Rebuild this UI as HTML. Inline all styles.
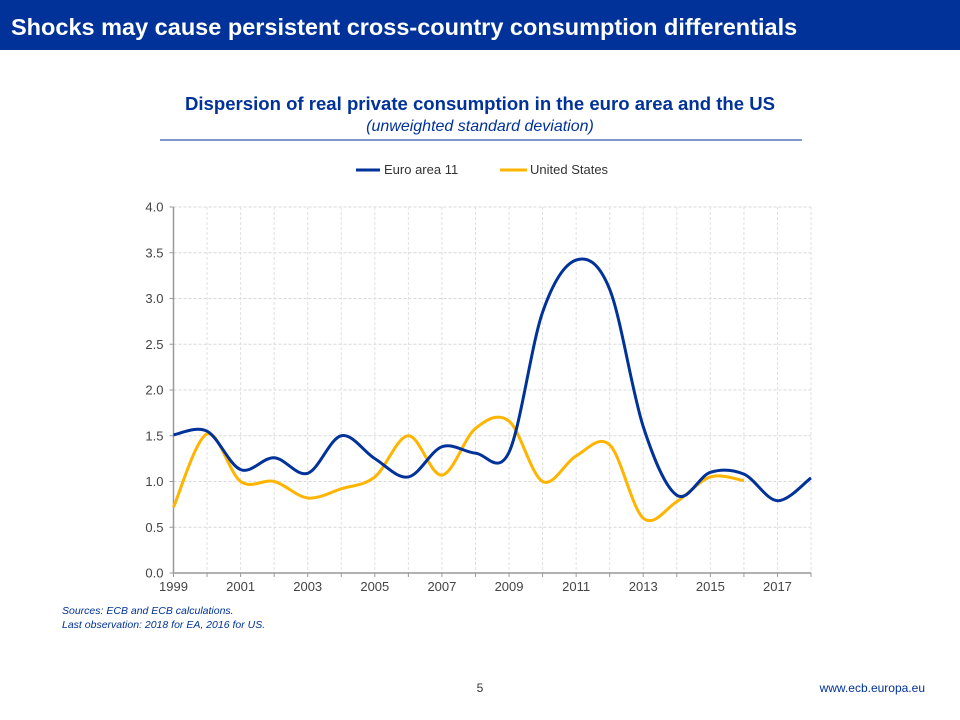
<!DOCTYPE html>
<html><head><meta charset="utf-8">
<style>
body{margin:0;width:960px;height:720px;background:#fff;font-family:"Liberation Sans",Arial,sans-serif;overflow:hidden;position:relative}
.hdr{position:absolute;left:0;top:0;width:960px;height:50px;background:#003299;color:#fff;font-weight:bold;font-size:23.5px;line-height:54px;padding-left:11px;box-sizing:border-box;white-space:nowrap}
</style></head><body>
<div class="hdr">Shocks may cause persistent cross-country consumption differentials</div>
<svg width="960" height="720" style="position:absolute;left:0;top:0">
<text x="480" y="110" text-anchor="middle" font-size="18.5" font-weight="bold" fill="#003299" textLength="590" lengthAdjust="spacingAndGlyphs">Dispersion of real private consumption in the euro area and the US</text>
<text x="480" y="131" text-anchor="middle" font-size="16" font-style="italic" fill="#003299">(unweighted standard deviation)</text>
<line x1="160" y1="140" x2="802" y2="140" stroke="#003299" stroke-width="1"/>
<g>
<line x1="356" y1="170" x2="380" y2="170" stroke="#003299" stroke-width="3"/>
<text x="384" y="174" font-size="13" fill="#333">Euro area 11</text>
<line x1="500" y1="170" x2="527" y2="170" stroke="#FFB400" stroke-width="3"/>
<text x="530" y="174" font-size="13" fill="#333">United States</text>
</g>
<g id="grid"></g><g id="axes"></g><g id="series"></g>
<text x="62" y="614" font-size="10.5" font-style="italic" fill="#003299">Sources: ECB and ECB calculations.</text>
<text x="62" y="628" font-size="10.5" font-style="italic" fill="#003299">Last observation: 2018 for EA,  2016 for US.</text>
<text x="480" y="692" text-anchor="middle" font-size="12" fill="#333">5</text>
<text x="925" y="692" text-anchor="end" font-size="12" fill="#003299">www.ecb.europa.eu</text>
</svg>
<script>
const years=[1999,2000,2001,2002,2003,2004,2005,2006,2007,2008,2009,2010,2011,2012,2013,2014,2015,2016,2017,2018];
const euroArea=[1.51,1.55,1.13,1.26,1.09,1.50,1.25,1.05,1.38,1.31,1.32,2.85,3.42,3.10,1.60,0.85,1.10,1.08,0.79,1.04];
const unitedStates=[0.72,1.52,1.00,1.00,0.82,0.92,1.05,1.50,1.07,1.58,1.66,1.00,1.28,1.40,0.60,0.78,1.05,1.01];
const yTicks=[0,0.5,1,1.5,2,2.5,3,3.5,4];
const xTickYears=[1999,2001,2003,2005,2007,2009,2011,2013,2015,2017];
const NS="http://www.w3.org/2000/svg";
const X0=173.5,X1=811,Y0=573,Y1=207;
const xs=y=>X0+(y-1999)/(2018-1999)*(X1-X0);
const ys=v=>Y0-v/4*(Y0-Y1);
function mk(t,a,p){const e=document.createElementNS(NS,t);for(const k in a)e.setAttribute(k,a[k]);p.appendChild(e);return e;}
const grid=document.getElementById('grid'),axes=document.getElementById('axes'),ser=document.getElementById('series');
yTicks.forEach(v=>{
 if(v>0){const l=mk('line',{x1:X0,x2:X1,y1:ys(v),y2:ys(v),stroke:'#d8d8d8','stroke-dasharray':'3,2'},grid);
 }
 const t=mk('text',{x:X0-10,y:ys(v)+4.5,'text-anchor':'end','font-size':13,fill:'#444'},axes);t.textContent=v.toFixed(1);
 
 mk('line',{x1:X0-4,x2:X0,y1:ys(v),y2:ys(v),stroke:'#999'},axes);
});
years.forEach(y=>{
 if(y>1999){const l=mk('line',{x1:xs(y),x2:xs(y),y1:Y1,y2:Y0,stroke:'#e0e0e0','stroke-dasharray':'3,2'},grid);
 }
 mk('line',{x1:xs(y),x2:xs(y),y1:Y0,y2:Y0+4,stroke:'#999'},axes);
});
xTickYears.forEach(y=>{const t=mk('text',{x:xs(y),y:Y0+18,'text-anchor':'middle','font-size':13,fill:'#444'},axes);t.textContent=y;
 });
const ax=mk('path',{d:`M${X0},${Y1}V${Y0}H${X1}`,stroke:'#999',fill:'none','stroke-width':1.5},axes);

function smooth(vals){const p=vals.map((v,i)=>[xs(years[i]),ys(v)]);let d=`M${p[0][0]},${p[0][1]}`;
 for(let i=0;i<p.length-1;i++){const a=p[i-1]||p[i],b=p[i],c=p[i+1],e=p[i+2]||c;
  const c1=[b[0]+(c[0]-a[0])/6,b[1]+(c[1]-a[1])/6],c2=[c[0]-(e[0]-b[0])/6,c[1]-(e[1]-b[1])/6];
  d+=` C${c1[0]},${c1[1]} ${c2[0]},${c2[1]} ${c[0]},${c[1]}`;}return d;}
const us=mk('path',{d:smooth(unitedStates),stroke:'#FFB400',fill:'none','stroke-width':3},ser);

const ea=mk('path',{d:smooth(euroArea),stroke:'#003299',fill:'none','stroke-width':3},ser);

</script>
</body></html>
